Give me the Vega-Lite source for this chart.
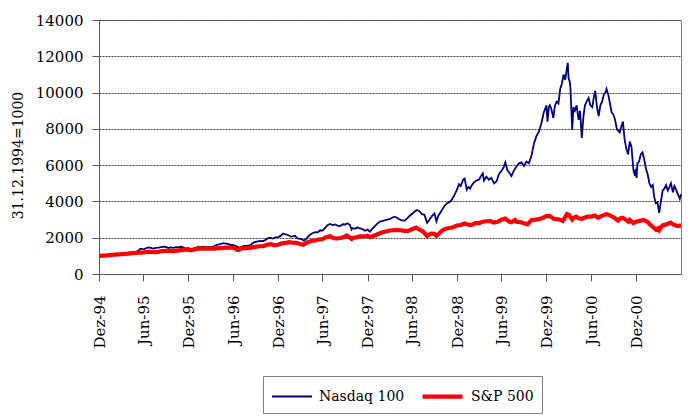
{
"$schema": "https://vega.github.io/schema/vega-lite/v6.json",
"width": 582, "height": 254,
"autosize": {"type": "none"},
"padding": {"left": 99, "top": 20, "right": 19, "bottom": 145},
"background": "white",
"config": {"font": "DejaVu Serif", "view": {"stroke": "#808080", "strokeWidth": 1},
  "axis": {"labelFont": "DejaVu Serif", "titleFont": "DejaVu Serif"},
  "legend": {"labelFont": "DejaVu Serif"}},
"data": {"values": [
{"s":"Nasdaq 100","d":"1994-12-31","v":1000},{"s":"Nasdaq 100","d":"1995-01-09","v":980},{"s":"Nasdaq 100","d":"1995-01-20","v":995},{"s":"Nasdaq 100","d":"1995-01-31","v":1005},
{"s":"Nasdaq 100","d":"1995-02-10","v":1040},{"s":"Nasdaq 100","d":"1995-02-20","v":1060},{"s":"Nasdaq 100","d":"1995-02-28","v":1060},{"s":"Nasdaq 100","d":"1995-03-10","v":1075},
{"s":"Nasdaq 100","d":"1995-03-20","v":1100},{"s":"Nasdaq 100","d":"1995-03-31","v":1105},{"s":"Nasdaq 100","d":"1995-04-10","v":1140},{"s":"Nasdaq 100","d":"1995-04-20","v":1160},
{"s":"Nasdaq 100","d":"1995-04-30","v":1175},{"s":"Nasdaq 100","d":"1995-05-10","v":1190},{"s":"Nasdaq 100","d":"1995-05-20","v":1210},{"s":"Nasdaq 100","d":"1995-05-31","v":1215},
{"s":"Nasdaq 100","d":"1995-06-08","v":1260},{"s":"Nasdaq 100","d":"1995-06-16","v":1370},{"s":"Nasdaq 100","d":"1995-06-23","v":1400},{"s":"Nasdaq 100","d":"1995-06-30","v":1350},
{"s":"Nasdaq 100","d":"1995-07-10","v":1420},{"s":"Nasdaq 100","d":"1995-07-20","v":1460},{"s":"Nasdaq 100","d":"1995-07-31","v":1440},{"s":"Nasdaq 100","d":"1995-08-10","v":1400},
{"s":"Nasdaq 100","d":"1995-08-20","v":1445},{"s":"Nasdaq 100","d":"1995-08-31","v":1455},{"s":"Nasdaq 100","d":"1995-09-10","v":1480},{"s":"Nasdaq 100","d":"1995-09-20","v":1505},
{"s":"Nasdaq 100","d":"1995-09-30","v":1490},{"s":"Nasdaq 100","d":"1995-10-10","v":1430},{"s":"Nasdaq 100","d":"1995-10-20","v":1470},{"s":"Nasdaq 100","d":"1995-10-31","v":1440},
{"s":"Nasdaq 100","d":"1995-11-10","v":1485},{"s":"Nasdaq 100","d":"1995-11-20","v":1465},{"s":"Nasdaq 100","d":"1995-11-30","v":1500},{"s":"Nasdaq 100","d":"1995-12-10","v":1470},
{"s":"Nasdaq 100","d":"1995-12-20","v":1405},{"s":"Nasdaq 100","d":"1995-12-31","v":1425},{"s":"Nasdaq 100","d":"1996-01-10","v":1375},{"s":"Nasdaq 100","d":"1996-01-20","v":1400},
{"s":"Nasdaq 100","d":"1996-01-31","v":1440},{"s":"Nasdaq 100","d":"1996-02-10","v":1510},{"s":"Nasdaq 100","d":"1996-02-20","v":1485},{"s":"Nasdaq 100","d":"1996-02-29","v":1510},
{"s":"Nasdaq 100","d":"1996-03-10","v":1465},{"s":"Nasdaq 100","d":"1996-03-20","v":1495},{"s":"Nasdaq 100","d":"1996-03-31","v":1480},{"s":"Nasdaq 100","d":"1996-04-10","v":1505},
{"s":"Nasdaq 100","d":"1996-04-20","v":1580},{"s":"Nasdaq 100","d":"1996-04-30","v":1625},{"s":"Nasdaq 100","d":"1996-05-10","v":1640},{"s":"Nasdaq 100","d":"1996-05-20","v":1705},
{"s":"Nasdaq 100","d":"1996-05-31","v":1680},{"s":"Nasdaq 100","d":"1996-06-10","v":1660},{"s":"Nasdaq 100","d":"1996-06-20","v":1600},{"s":"Nasdaq 100","d":"1996-06-30","v":1610},
{"s":"Nasdaq 100","d":"1996-07-10","v":1560},{"s":"Nasdaq 100","d":"1996-07-20","v":1470},{"s":"Nasdaq 100","d":"1996-07-31","v":1480},{"s":"Nasdaq 100","d":"1996-08-10","v":1540},
{"s":"Nasdaq 100","d":"1996-08-20","v":1560},{"s":"Nasdaq 100","d":"1996-08-31","v":1555},{"s":"Nasdaq 100","d":"1996-09-10","v":1600},{"s":"Nasdaq 100","d":"1996-09-20","v":1720},
{"s":"Nasdaq 100","d":"1996-09-30","v":1770},{"s":"Nasdaq 100","d":"1996-10-10","v":1800},{"s":"Nasdaq 100","d":"1996-10-20","v":1830},{"s":"Nasdaq 100","d":"1996-10-31","v":1810},
{"s":"Nasdaq 100","d":"1996-11-10","v":1880},{"s":"Nasdaq 100","d":"1996-11-20","v":1980},{"s":"Nasdaq 100","d":"1996-11-30","v":1990},{"s":"Nasdaq 100","d":"1996-12-10","v":1950},
{"s":"Nasdaq 100","d":"1996-12-20","v":2020},{"s":"Nasdaq 100","d":"1996-12-31","v":2030},{"s":"Nasdaq 100","d":"1997-01-10","v":2100},{"s":"Nasdaq 100","d":"1997-01-20","v":2230},
{"s":"Nasdaq 100","d":"1997-01-31","v":2180},{"s":"Nasdaq 100","d":"1997-02-10","v":2150},{"s":"Nasdaq 100","d":"1997-02-20","v":2060},{"s":"Nasdaq 100","d":"1997-02-28","v":2080},
{"s":"Nasdaq 100","d":"1997-03-10","v":2110},{"s":"Nasdaq 100","d":"1997-03-20","v":1960},{"s":"Nasdaq 100","d":"1997-03-31","v":1930},{"s":"Nasdaq 100","d":"1997-04-08","v":1900},
{"s":"Nasdaq 100","d":"1997-04-15","v":1840},{"s":"Nasdaq 100","d":"1997-04-24","v":1910},{"s":"Nasdaq 100","d":"1997-04-30","v":2030},{"s":"Nasdaq 100","d":"1997-05-10","v":2160},
{"s":"Nasdaq 100","d":"1997-05-20","v":2250},{"s":"Nasdaq 100","d":"1997-05-31","v":2310},{"s":"Nasdaq 100","d":"1997-06-10","v":2290},{"s":"Nasdaq 100","d":"1997-06-20","v":2410},
{"s":"Nasdaq 100","d":"1997-06-30","v":2390},{"s":"Nasdaq 100","d":"1997-07-10","v":2530},{"s":"Nasdaq 100","d":"1997-07-20","v":2690},{"s":"Nasdaq 100","d":"1997-07-31","v":2760},
{"s":"Nasdaq 100","d":"1997-08-10","v":2700},{"s":"Nasdaq 100","d":"1997-08-20","v":2730},{"s":"Nasdaq 100","d":"1997-08-31","v":2660},{"s":"Nasdaq 100","d":"1997-09-10","v":2640},
{"s":"Nasdaq 100","d":"1997-09-20","v":2740},{"s":"Nasdaq 100","d":"1997-09-30","v":2730},{"s":"Nasdaq 100","d":"1997-10-10","v":2800},{"s":"Nasdaq 100","d":"1997-10-20","v":2700},
{"s":"Nasdaq 100","d":"1997-10-27","v":2450},{"s":"Nasdaq 100","d":"1997-10-31","v":2530},{"s":"Nasdaq 100","d":"1997-11-10","v":2490},{"s":"Nasdaq 100","d":"1997-11-20","v":2570},
{"s":"Nasdaq 100","d":"1997-11-30","v":2510},{"s":"Nasdaq 100","d":"1997-12-10","v":2480},{"s":"Nasdaq 100","d":"1997-12-20","v":2390},{"s":"Nasdaq 100","d":"1997-12-31","v":2450},
{"s":"Nasdaq 100","d":"1998-01-09","v":2330},{"s":"Nasdaq 100","d":"1998-01-20","v":2500},{"s":"Nasdaq 100","d":"1998-01-31","v":2650},{"s":"Nasdaq 100","d":"1998-02-10","v":2790},
{"s":"Nasdaq 100","d":"1998-02-20","v":2890},{"s":"Nasdaq 100","d":"1998-02-28","v":2920},{"s":"Nasdaq 100","d":"1998-03-10","v":2960},{"s":"Nasdaq 100","d":"1998-03-20","v":3000},
{"s":"Nasdaq 100","d":"1998-03-31","v":3020},{"s":"Nasdaq 100","d":"1998-04-10","v":3100},{"s":"Nasdaq 100","d":"1998-04-20","v":3160},{"s":"Nasdaq 100","d":"1998-04-30","v":3100},
{"s":"Nasdaq 100","d":"1998-05-10","v":3010},{"s":"Nasdaq 100","d":"1998-05-20","v":2950},{"s":"Nasdaq 100","d":"1998-05-31","v":2940},{"s":"Nasdaq 100","d":"1998-06-10","v":3050},
{"s":"Nasdaq 100","d":"1998-06-20","v":3200},{"s":"Nasdaq 100","d":"1998-06-30","v":3310},{"s":"Nasdaq 100","d":"1998-07-10","v":3430},{"s":"Nasdaq 100","d":"1998-07-20","v":3530},
{"s":"Nasdaq 100","d":"1998-07-31","v":3460},{"s":"Nasdaq 100","d":"1998-08-10","v":3300},{"s":"Nasdaq 100","d":"1998-08-20","v":3260},{"s":"Nasdaq 100","d":"1998-08-31","v":2820},
{"s":"Nasdaq 100","d":"1998-09-10","v":3000},{"s":"Nasdaq 100","d":"1998-09-20","v":3200},{"s":"Nasdaq 100","d":"1998-09-30","v":3330},{"s":"Nasdaq 100","d":"1998-10-08","v":2900},
{"s":"Nasdaq 100","d":"1998-10-15","v":3200},{"s":"Nasdaq 100","d":"1998-10-25","v":3400},{"s":"Nasdaq 100","d":"1998-10-31","v":3550},{"s":"Nasdaq 100","d":"1998-11-10","v":3750},
{"s":"Nasdaq 100","d":"1998-11-20","v":3900},{"s":"Nasdaq 100","d":"1998-11-30","v":3960},{"s":"Nasdaq 100","d":"1998-12-10","v":4100},{"s":"Nasdaq 100","d":"1998-12-20","v":4350},
{"s":"Nasdaq 100","d":"1998-12-31","v":4650},{"s":"Nasdaq 100","d":"1999-01-08","v":4950},{"s":"Nasdaq 100","d":"1999-01-15","v":4850},{"s":"Nasdaq 100","d":"1999-01-25","v":5200},
{"s":"Nasdaq 100","d":"1999-01-31","v":5260},{"s":"Nasdaq 100","d":"1999-02-09","v":4650},{"s":"Nasdaq 100","d":"1999-02-15","v":4800},{"s":"Nasdaq 100","d":"1999-02-22","v":4700},
{"s":"Nasdaq 100","d":"1999-02-28","v":4860},{"s":"Nasdaq 100","d":"1999-03-10","v":5050},{"s":"Nasdaq 100","d":"1999-03-20","v":5150},{"s":"Nasdaq 100","d":"1999-03-31","v":5210},
{"s":"Nasdaq 100","d":"1999-04-10","v":5450},{"s":"Nasdaq 100","d":"1999-04-15","v":5550},{"s":"Nasdaq 100","d":"1999-04-20","v":5150},{"s":"Nasdaq 100","d":"1999-04-30","v":5360},
{"s":"Nasdaq 100","d":"1999-05-10","v":5200},{"s":"Nasdaq 100","d":"1999-05-20","v":5300},{"s":"Nasdaq 100","d":"1999-05-31","v":5000},{"s":"Nasdaq 100","d":"1999-06-10","v":5100},
{"s":"Nasdaq 100","d":"1999-06-20","v":5500},{"s":"Nasdaq 100","d":"1999-06-30","v":5680},{"s":"Nasdaq 100","d":"1999-07-10","v":5900},{"s":"Nasdaq 100","d":"1999-07-16","v":6150},
{"s":"Nasdaq 100","d":"1999-07-25","v":5700},{"s":"Nasdaq 100","d":"1999-07-31","v":5610},{"s":"Nasdaq 100","d":"1999-08-10","v":5400},{"s":"Nasdaq 100","d":"1999-08-20","v":5700},
{"s":"Nasdaq 100","d":"1999-08-31","v":5940},{"s":"Nasdaq 100","d":"1999-09-10","v":6100},{"s":"Nasdaq 100","d":"1999-09-20","v":6150},{"s":"Nasdaq 100","d":"1999-09-30","v":5950},
{"s":"Nasdaq 100","d":"1999-10-10","v":6200},{"s":"Nasdaq 100","d":"1999-10-20","v":6100},{"s":"Nasdaq 100","d":"1999-10-31","v":6530},{"s":"Nasdaq 100","d":"1999-11-10","v":7200},
{"s":"Nasdaq 100","d":"1999-11-20","v":7600},{"s":"Nasdaq 100","d":"1999-11-30","v":7850},{"s":"Nasdaq 100","d":"1999-12-10","v":8300},{"s":"Nasdaq 100","d":"1999-12-20","v":8900},
{"s":"Nasdaq 100","d":"1999-12-31","v":9300},{"s":"Nasdaq 100","d":"2000-01-04","v":8400},{"s":"Nasdaq 100","d":"2000-01-10","v":9200},{"s":"Nasdaq 100","d":"2000-01-14","v":9300},
{"s":"Nasdaq 100","d":"2000-01-20","v":9100},{"s":"Nasdaq 100","d":"2000-01-28","v":8600},{"s":"Nasdaq 100","d":"2000-02-04","v":9300},{"s":"Nasdaq 100","d":"2000-02-11","v":9500},
{"s":"Nasdaq 100","d":"2000-02-18","v":9400},{"s":"Nasdaq 100","d":"2000-02-25","v":10200},{"s":"Nasdaq 100","d":"2000-03-03","v":10500},{"s":"Nasdaq 100","d":"2000-03-10","v":11000},
{"s":"Nasdaq 100","d":"2000-03-16","v":10700},{"s":"Nasdaq 100","d":"2000-03-22","v":11200},{"s":"Nasdaq 100","d":"2000-03-27","v":11640},{"s":"Nasdaq 100","d":"2000-03-30","v":10800},
{"s":"Nasdaq 100","d":"2000-04-04","v":10600},{"s":"Nasdaq 100","d":"2000-04-07","v":10200},{"s":"Nasdaq 100","d":"2000-04-14","v":7950},{"s":"Nasdaq 100","d":"2000-04-19","v":9200},
{"s":"Nasdaq 100","d":"2000-04-25","v":9000},{"s":"Nasdaq 100","d":"2000-05-02","v":9300},{"s":"Nasdaq 100","d":"2000-05-10","v":8500},{"s":"Nasdaq 100","d":"2000-05-16","v":9000},
{"s":"Nasdaq 100","d":"2000-05-23","v":7500},{"s":"Nasdaq 100","d":"2000-05-30","v":8700},{"s":"Nasdaq 100","d":"2000-06-05","v":9300},{"s":"Nasdaq 100","d":"2000-06-12","v":9500},
{"s":"Nasdaq 100","d":"2000-06-20","v":9700},{"s":"Nasdaq 100","d":"2000-06-27","v":9300},{"s":"Nasdaq 100","d":"2000-07-05","v":9200},{"s":"Nasdaq 100","d":"2000-07-12","v":9800},
{"s":"Nasdaq 100","d":"2000-07-17","v":10100},{"s":"Nasdaq 100","d":"2000-07-24","v":9200},{"s":"Nasdaq 100","d":"2000-07-31","v":8700},{"s":"Nasdaq 100","d":"2000-08-07","v":9300},
{"s":"Nasdaq 100","d":"2000-08-14","v":9500},{"s":"Nasdaq 100","d":"2000-08-21","v":9900},{"s":"Nasdaq 100","d":"2000-08-28","v":10000},{"s":"Nasdaq 100","d":"2000-09-01","v":10200},
{"s":"Nasdaq 100","d":"2000-09-08","v":9900},{"s":"Nasdaq 100","d":"2000-09-15","v":9400},{"s":"Nasdaq 100","d":"2000-09-22","v":8900},{"s":"Nasdaq 100","d":"2000-09-29","v":8800},
{"s":"Nasdaq 100","d":"2000-10-06","v":8500},{"s":"Nasdaq 100","d":"2000-10-13","v":8000},{"s":"Nasdaq 100","d":"2000-10-18","v":7900},{"s":"Nasdaq 100","d":"2000-10-25","v":7800},
{"s":"Nasdaq 100","d":"2000-10-31","v":8100},{"s":"Nasdaq 100","d":"2000-11-07","v":8400},{"s":"Nasdaq 100","d":"2000-11-14","v":7400},{"s":"Nasdaq 100","d":"2000-11-21","v":6900},
{"s":"Nasdaq 100","d":"2000-11-28","v":6600},{"s":"Nasdaq 100","d":"2000-12-05","v":7300},{"s":"Nasdaq 100","d":"2000-12-12","v":7000},{"s":"Nasdaq 100","d":"2000-12-20","v":5700},
{"s":"Nasdaq 100","d":"2000-12-27","v":5400},{"s":"Nasdaq 100","d":"2000-12-29","v":5800},{"s":"Nasdaq 100","d":"2001-01-02","v":5300},{"s":"Nasdaq 100","d":"2001-01-05","v":6100},
{"s":"Nasdaq 100","d":"2001-01-12","v":6200},{"s":"Nasdaq 100","d":"2001-01-19","v":6600},{"s":"Nasdaq 100","d":"2001-01-26","v":6700},{"s":"Nasdaq 100","d":"2001-02-02","v":6300},
{"s":"Nasdaq 100","d":"2001-02-09","v":5800},{"s":"Nasdaq 100","d":"2001-02-16","v":5500},{"s":"Nasdaq 100","d":"2001-02-23","v":5000},{"s":"Nasdaq 100","d":"2001-03-02","v":4800},
{"s":"Nasdaq 100","d":"2001-03-09","v":4900},{"s":"Nasdaq 100","d":"2001-03-14","v":4300},{"s":"Nasdaq 100","d":"2001-03-21","v":3900},{"s":"Nasdaq 100","d":"2001-03-28","v":3950},
{"s":"Nasdaq 100","d":"2001-04-04","v":3370},{"s":"Nasdaq 100","d":"2001-04-11","v":4000},{"s":"Nasdaq 100","d":"2001-04-18","v":4600},{"s":"Nasdaq 100","d":"2001-04-25","v":4700},
{"s":"Nasdaq 100","d":"2001-05-02","v":4900},{"s":"Nasdaq 100","d":"2001-05-09","v":4600},{"s":"Nasdaq 100","d":"2001-05-16","v":4800},{"s":"Nasdaq 100","d":"2001-05-22","v":5000},
{"s":"Nasdaq 100","d":"2001-05-30","v":4500},{"s":"Nasdaq 100","d":"2001-06-05","v":4850},{"s":"Nasdaq 100","d":"2001-06-12","v":4650},{"s":"Nasdaq 100","d":"2001-06-19","v":4400},
{"s":"Nasdaq 100","d":"2001-06-27","v":4150},{"s":"Nasdaq 100","d":"2001-07-02","v":4400},
{"s":"S&P 500","d":"1994-12-31","v":1000},{"s":"S&P 500","d":"1995-01-15","v":1010},{"s":"S&P 500","d":"1995-01-31","v":1024},{"s":"S&P 500","d":"1995-02-15","v":1045},
{"s":"S&P 500","d":"1995-02-28","v":1061},{"s":"S&P 500","d":"1995-03-15","v":1080},{"s":"S&P 500","d":"1995-03-31","v":1090},{"s":"S&P 500","d":"1995-04-15","v":1105},
{"s":"S&P 500","d":"1995-04-30","v":1121},{"s":"S&P 500","d":"1995-05-15","v":1150},{"s":"S&P 500","d":"1995-05-31","v":1161},{"s":"S&P 500","d":"1995-06-15","v":1175},
{"s":"S&P 500","d":"1995-06-30","v":1186},{"s":"S&P 500","d":"1995-07-15","v":1220},{"s":"S&P 500","d":"1995-07-31","v":1224},{"s":"S&P 500","d":"1995-08-15","v":1210},
{"s":"S&P 500","d":"1995-08-31","v":1223},{"s":"S&P 500","d":"1995-09-15","v":1265},{"s":"S&P 500","d":"1995-09-30","v":1272},{"s":"S&P 500","d":"1995-10-15","v":1280},
{"s":"S&P 500","d":"1995-10-31","v":1266},{"s":"S&P 500","d":"1995-11-15","v":1290},{"s":"S&P 500","d":"1995-11-30","v":1318},{"s":"S&P 500","d":"1995-12-15","v":1340},
{"s":"S&P 500","d":"1995-12-31","v":1341},{"s":"S&P 500","d":"1996-01-10","v":1302},{"s":"S&P 500","d":"1996-01-31","v":1385},{"s":"S&P 500","d":"1996-02-15","v":1410},
{"s":"S&P 500","d":"1996-02-29","v":1394},{"s":"S&P 500","d":"1996-03-15","v":1400},{"s":"S&P 500","d":"1996-03-31","v":1405},{"s":"S&P 500","d":"1996-04-15","v":1400},
{"s":"S&P 500","d":"1996-04-30","v":1424},{"s":"S&P 500","d":"1996-05-15","v":1430},{"s":"S&P 500","d":"1996-05-31","v":1457},{"s":"S&P 500","d":"1996-06-15","v":1450},
{"s":"S&P 500","d":"1996-06-30","v":1460},{"s":"S&P 500","d":"1996-07-15","v":1340},{"s":"S&P 500","d":"1996-07-24","v":1330},{"s":"S&P 500","d":"1996-07-31","v":1393},
{"s":"S&P 500","d":"1996-08-15","v":1440},{"s":"S&P 500","d":"1996-08-31","v":1420},{"s":"S&P 500","d":"1996-09-15","v":1465},{"s":"S&P 500","d":"1996-09-30","v":1497},
{"s":"S&P 500","d":"1996-10-15","v":1530},{"s":"S&P 500","d":"1996-10-31","v":1536},{"s":"S&P 500","d":"1996-11-15","v":1610},{"s":"S&P 500","d":"1996-11-30","v":1648},
{"s":"S&P 500","d":"1996-12-15","v":1580},{"s":"S&P 500","d":"1996-12-31","v":1613},{"s":"S&P 500","d":"1997-01-15","v":1690},{"s":"S&P 500","d":"1997-01-31","v":1712},
{"s":"S&P 500","d":"1997-02-15","v":1750},{"s":"S&P 500","d":"1997-02-28","v":1722},{"s":"S&P 500","d":"1997-03-15","v":1720},{"s":"S&P 500","d":"1997-03-31","v":1649},
{"s":"S&P 500","d":"1997-04-11","v":1615},{"s":"S&P 500","d":"1997-04-30","v":1745},{"s":"S&P 500","d":"1997-05-15","v":1820},{"s":"S&P 500","d":"1997-05-31","v":1847},
{"s":"S&P 500","d":"1997-06-15","v":1900},{"s":"S&P 500","d":"1997-06-30","v":1927},{"s":"S&P 500","d":"1997-07-15","v":2030},{"s":"S&P 500","d":"1997-07-31","v":2078},
{"s":"S&P 500","d":"1997-08-15","v":1980},{"s":"S&P 500","d":"1997-08-31","v":1958},{"s":"S&P 500","d":"1997-09-15","v":2000},{"s":"S&P 500","d":"1997-09-30","v":2063},
{"s":"S&P 500","d":"1997-10-07","v":2120},{"s":"S&P 500","d":"1997-10-27","v":1930},{"s":"S&P 500","d":"1997-10-31","v":1991},{"s":"S&P 500","d":"1997-11-15","v":2020},
{"s":"S&P 500","d":"1997-11-30","v":2080},{"s":"S&P 500","d":"1997-12-15","v":2070},{"s":"S&P 500","d":"1997-12-31","v":2113},{"s":"S&P 500","d":"1998-01-09","v":2040},
{"s":"S&P 500","d":"1998-01-20","v":2080},{"s":"S&P 500","d":"1998-01-31","v":2134},{"s":"S&P 500","d":"1998-02-15","v":2220},{"s":"S&P 500","d":"1998-02-28","v":2285},
{"s":"S&P 500","d":"1998-03-15","v":2340},{"s":"S&P 500","d":"1998-03-31","v":2399},{"s":"S&P 500","d":"1998-04-15","v":2410},{"s":"S&P 500","d":"1998-04-30","v":2421},
{"s":"S&P 500","d":"1998-05-15","v":2410},{"s":"S&P 500","d":"1998-05-31","v":2375},{"s":"S&P 500","d":"1998-06-15","v":2380},{"s":"S&P 500","d":"1998-06-30","v":2469},
{"s":"S&P 500","d":"1998-07-17","v":2560},{"s":"S&P 500","d":"1998-07-31","v":2440},{"s":"S&P 500","d":"1998-08-15","v":2340},{"s":"S&P 500","d":"1998-08-31","v":2100},
{"s":"S&P 500","d":"1998-09-15","v":2230},{"s":"S&P 500","d":"1998-09-30","v":2214},{"s":"S&P 500","d":"1998-10-08","v":2100},{"s":"S&P 500","d":"1998-10-20","v":2250},
{"s":"S&P 500","d":"1998-10-31","v":2392},{"s":"S&P 500","d":"1998-11-15","v":2500},{"s":"S&P 500","d":"1998-11-30","v":2534},{"s":"S&P 500","d":"1998-12-15","v":2580},
{"s":"S&P 500","d":"1998-12-31","v":2676},{"s":"S&P 500","d":"1999-01-15","v":2700},{"s":"S&P 500","d":"1999-01-31","v":2786},{"s":"S&P 500","d":"1999-02-15","v":2720},
{"s":"S&P 500","d":"1999-02-28","v":2696},{"s":"S&P 500","d":"1999-03-15","v":2810},{"s":"S&P 500","d":"1999-03-31","v":2801},{"s":"S&P 500","d":"1999-04-15","v":2880},
{"s":"S&P 500","d":"1999-04-30","v":2907},{"s":"S&P 500","d":"1999-05-15","v":2920},{"s":"S&P 500","d":"1999-05-31","v":2835},{"s":"S&P 500","d":"1999-06-15","v":2880},
{"s":"S&P 500","d":"1999-06-30","v":2989},{"s":"S&P 500","d":"1999-07-16","v":3060},{"s":"S&P 500","d":"1999-07-31","v":2893},{"s":"S&P 500","d":"1999-08-10","v":2850},
{"s":"S&P 500","d":"1999-08-25","v":2980},{"s":"S&P 500","d":"1999-08-31","v":2875},{"s":"S&P 500","d":"1999-09-15","v":2860},{"s":"S&P 500","d":"1999-09-30","v":2793},
{"s":"S&P 500","d":"1999-10-15","v":2740},{"s":"S&P 500","d":"1999-10-31","v":2968},{"s":"S&P 500","d":"1999-11-15","v":3000},{"s":"S&P 500","d":"1999-11-30","v":3024},
{"s":"S&P 500","d":"1999-12-15","v":3080},{"s":"S&P 500","d":"1999-12-31","v":3199},{"s":"S&P 500","d":"2000-01-14","v":3190},{"s":"S&P 500","d":"2000-01-27","v":3070},
{"s":"S&P 500","d":"2000-01-31","v":3036},{"s":"S&P 500","d":"2000-02-15","v":3020},{"s":"S&P 500","d":"2000-02-29","v":2975},{"s":"S&P 500","d":"2000-03-07","v":2930},
{"s":"S&P 500","d":"2000-03-24","v":3300},{"s":"S&P 500","d":"2000-03-31","v":3263},{"s":"S&P 500","d":"2000-04-14","v":3000},{"s":"S&P 500","d":"2000-04-20","v":3100},
{"s":"S&P 500","d":"2000-04-30","v":3162},{"s":"S&P 500","d":"2000-05-10","v":3070},{"s":"S&P 500","d":"2000-05-24","v":3040},{"s":"S&P 500","d":"2000-05-31","v":3093},
{"s":"S&P 500","d":"2000-06-15","v":3160},{"s":"S&P 500","d":"2000-06-30","v":3167},{"s":"S&P 500","d":"2000-07-15","v":3220},{"s":"S&P 500","d":"2000-07-28","v":3100},
{"s":"S&P 500","d":"2000-07-31","v":3115},{"s":"S&P 500","d":"2000-08-15","v":3220},{"s":"S&P 500","d":"2000-08-31","v":3290},{"s":"S&P 500","d":"2000-09-01","v":3300},
{"s":"S&P 500","d":"2000-09-15","v":3230},{"s":"S&P 500","d":"2000-09-30","v":3128},{"s":"S&P 500","d":"2000-10-18","v":2950},{"s":"S&P 500","d":"2000-10-31","v":3100},
{"s":"S&P 500","d":"2000-11-06","v":3100},{"s":"S&P 500","d":"2000-11-20","v":2980},{"s":"S&P 500","d":"2000-11-30","v":2880},{"s":"S&P 500","d":"2000-12-05","v":2980},
{"s":"S&P 500","d":"2000-12-20","v":2810},{"s":"S&P 500","d":"2000-12-31","v":2875},{"s":"S&P 500","d":"2001-01-15","v":2930},{"s":"S&P 500","d":"2001-01-30","v":2980},
{"s":"S&P 500","d":"2001-02-15","v":2880},{"s":"S&P 500","d":"2001-02-28","v":2700},{"s":"S&P 500","d":"2001-03-22","v":2450},{"s":"S&P 500","d":"2001-03-31","v":2526},
{"s":"S&P 500","d":"2001-04-04","v":2420},{"s":"S&P 500","d":"2001-04-18","v":2680},{"s":"S&P 500","d":"2001-04-30","v":2720},{"s":"S&P 500","d":"2001-05-21","v":2830},
{"s":"S&P 500","d":"2001-05-31","v":2734},{"s":"S&P 500","d":"2001-06-15","v":2650},{"s":"S&P 500","d":"2001-07-02","v":2666}
]},
"encoding": {
  "x": {"field": "d", "type": "temporal",
    "scale": {"type": "utc", "domain": [{"year":1994,"month":12,"date":31,"utc":true},{"year":2001,"month":7,"date":2,"utc":true}]},
    "axis": {"values": [
      {"year":1994,"month":12,"date":31,"utc":true},{"year":1995,"month":6,"date":30,"utc":true},
      {"year":1995,"month":12,"date":31,"utc":true},{"year":1996,"month":6,"date":30,"utc":true},
      {"year":1996,"month":12,"date":31,"utc":true},{"year":1997,"month":6,"date":30,"utc":true},
      {"year":1997,"month":12,"date":31,"utc":true},{"year":1998,"month":6,"date":30,"utc":true},
      {"year":1998,"month":12,"date":31,"utc":true},{"year":1999,"month":6,"date":30,"utc":true},
      {"year":1999,"month":12,"date":31,"utc":true},{"year":2000,"month":6,"date":30,"utc":true},
      {"year":2000,"month":12,"date":31,"utc":true}],
      "labelExpr": "replace(utcFormat(datum.value, '%b-%y'), 'Dec', 'Dez')",
      "labelAngle": 270, "labelFontSize": 15, "labelColor": "black", "labelPadding": 14,
      "tickSize": 7, "tickColor": "#555", "domainColor": "#555", "grid": false, "title": null,
      "labelOverlap": false, "labelFlush": false}
  },
  "y": {"field": "v", "type": "quantitative",
    "scale": {"domain": [0, 14000], "nice": false},
    "axis": {"values": [0,2000,4000,6000,8000,10000,12000,14000], "format": "d",
      "labelFontSize": 15, "labelColor": "black", "labelPadding": 9,
      "tickSize": 7, "tickColor": "#555", "domainColor": "#555",
      "grid": true, "gridColor": "#444", "gridDash": [2, 1],
      "title": "31.12.1994=1000", "titleFontSize": 14, "titleFontWeight": "normal", "titleColor": "black",
      "titleX": -81, "titleY": 135, "titleAngle": 270, "titleBaseline": "middle", "titleAlign": "center"}
  },
  "color": {"field": "s", "type": "nominal",
    "scale": {"domain": ["Nasdaq 100", "S&P 500"], "range": ["#000080", "#ff0000"]},
    "legend": {"title": null, "orient": "none", "legendX": 164, "legendY": 356, "direction": "horizontal",
      "strokeColor": "#808080", "padding": 8, "symbolType": "M-1,0L3,0", "symbolSize": 400,
      "labelFont": "DejaVu Serif", "labelFontSize": 14, "labelColor": "black", "columnPadding": 9, "labelOffset": 26}
  },
  "strokeWidth": {"field": "s", "type": "nominal",
    "scale": {"domain": ["Nasdaq 100", "S&P 500"], "range": [1.8, 4.2]},
    "legend": {"title": null, "orient": "none", "legendX": 164, "legendY": 356, "direction": "horizontal",
      "strokeColor": "#808080", "padding": 8, "symbolType": "M-1,0L3,0", "symbolSize": 400,
      "labelFont": "DejaVu Serif", "labelFontSize": 14, "labelColor": "black", "columnPadding": 9, "labelOffset": 26}
  }
},
"layer": [
  {"transform": [{"filter": "datum.s == 'Nasdaq 100'"}], "mark": {"type": "line"}},
  {"transform": [{"filter": "datum.s == 'S&P 500'"}], "mark": {"type": "line"}}
]
}
